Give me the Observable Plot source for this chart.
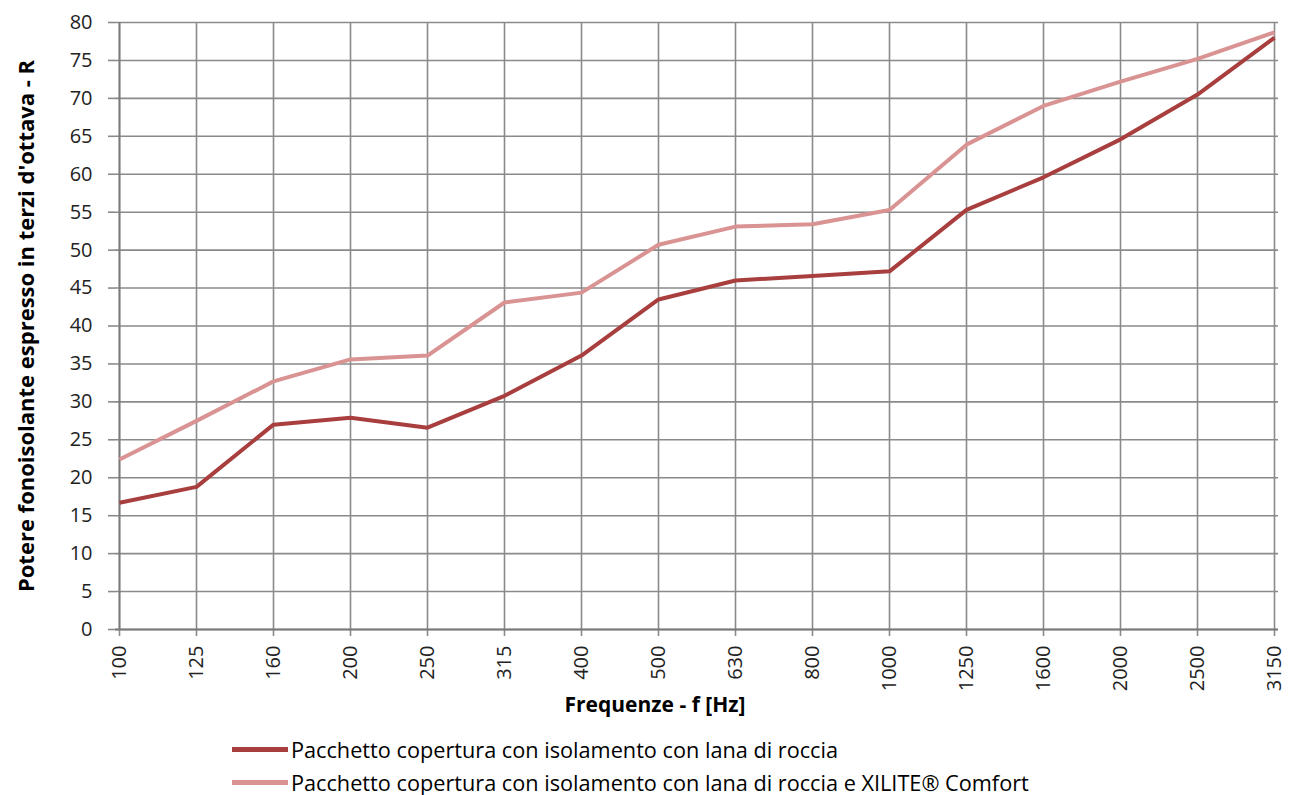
<!DOCTYPE html>
<html>
<head>
<meta charset="utf-8">
<script src="https://cdn.jsdelivr.net/npm/d3@7"></script>
<script src="https://cdn.jsdelivr.net/npm/@observablehq/plot@0.6"></script>
<style>
  html, body { margin: 0; background: #fff; font-family: "Open Sans", sans-serif; overflow: hidden; }
  #chart { position: absolute; left: 0; top: 0; }
  .legend { position: absolute; left: 232px; font-family: "Open Sans", sans-serif; font-size: 21.7px; color: #000; }
  .legend .row { display: flex; align-items: center; height: 33px; }
  .legend .sw { width: 56px; height: 5px; margin-right: 3px; }
</style>
</head>
<body>
<div id="chart"></div>
<div class="legend" id="legend" style="top:733px"></div>
<script>
const frequencies = ["100","125","160","200","250","315","400","500","630","800","1000","1250","1600","2000","2500","3150"];
const seriesNames = [
  "Pacchetto copertura con isolamento con lana di roccia",
  "Pacchetto copertura con isolamento con lana di roccia e XILITE® Comfort"
];
const seriesColors = ["#a83f3e", "#d99392"];
const rLanaRoccia = [16.7, 18.8, 27.0, 27.9, 26.6, 30.8, 36.1, 43.5, 46.0, 46.6, 47.2, 55.3, 59.6, 64.6, 70.5, 78.0];
const rLanaXilite = [22.4, 27.5, 32.7, 35.6, 36.1, 43.1, 44.4, 50.7, 53.1, 53.4, 55.3, 63.9, 69.0, 72.2, 75.2, 78.7];
const yTicks = d3.range(0, 81, 5);

const data = [];
frequencies.forEach((f, i) => {
  data.push({f, R: rLanaRoccia[i], s: seriesNames[0]});
  data.push({f, R: rLanaXilite[i], s: seriesNames[1]});
});

const plot = Plot.plot({
  width: 1291,
  height: 725,
  marginLeft: 115,
  marginRight: 13,
  marginTop: 22,
  marginBottom: 96,
  style: { fontFamily: "Open Sans, sans-serif", background: "#fff" },
  x: { type: "point", domain: frequencies, padding: 0 },
  y: { domain: [0, 80] },
  color: { domain: seriesNames, range: seriesColors },
  marks: [
    Plot.gridX(frequencies, { stroke: "#8a8a8a", strokeOpacity: 1, strokeWidth: 1.6 }),
    Plot.gridY(yTicks, { stroke: "#8a8a8a", strokeOpacity: 1, strokeWidth: 1.6 }),
    Plot.axisY(yTicks, {
      tickSize: 7, stroke: "#8a8a8a", strokeWidth: 1.6, tickFormat: () => "",
      label: "Potere fonoisolante espresso in terzi d'ottava - R",
      labelAnchor: "center", labelArrow: "none", labelOffset: 97
    }),
    Plot.axisX(frequencies, {
      tickSize: 7, stroke: "#8a8a8a", strokeWidth: 1.6, tickFormat: () => "", label: null
    }),
    Plot.text(yTicks, { y: d => d, frameAnchor: "left", dx: -23, textAnchor: "end", fontSize: 20, fill: "#222" }),
    Plot.text(frequencies, { x: d => d, frameAnchor: "bottom", dy: 16, rotate: -90, textAnchor: "end", lineAnchor: "middle", fontSize: 20, fill: "#222" }),
    Plot.ruleY([0], { stroke: "#7a7a7a", strokeWidth: 1.8 }),
    Plot.ruleX(["100"], { stroke: "#7a7a7a", strokeWidth: 1.8 }),
    Plot.line(data, { x: "f", y: "R", z: "s", stroke: "s", strokeWidth: 4, strokeLinejoin: "round", strokeLinecap: "butt" }),
    Plot.text(["Frequenze - f [Hz]"], { frameAnchor: "bottom", dx: -42, dy: 82, fontWeight: "bold", fontSize: 21, fill: "#000" })
  ]
});
document.getElementById("chart").appendChild(plot);

plot.querySelectorAll("g[aria-label]").forEach(g => {
  const lab = g.getAttribute("aria-label");
  if (lab.includes("y-axis label")) g.querySelectorAll("text").forEach(t => {
    t.style.fontSize = "22px"; t.style.fontWeight = "bold"; t.style.fill = "#000";
  });
});

const leg = document.getElementById("legend");
seriesNames.forEach((n, i) => {
  const row = document.createElement("div");
  row.className = "row";
  row.innerHTML = `<span class="sw" style="background:${seriesColors[i]}"></span><span>${n}</span>`;
  leg.appendChild(row);
});
</script>
</body>
</html>
